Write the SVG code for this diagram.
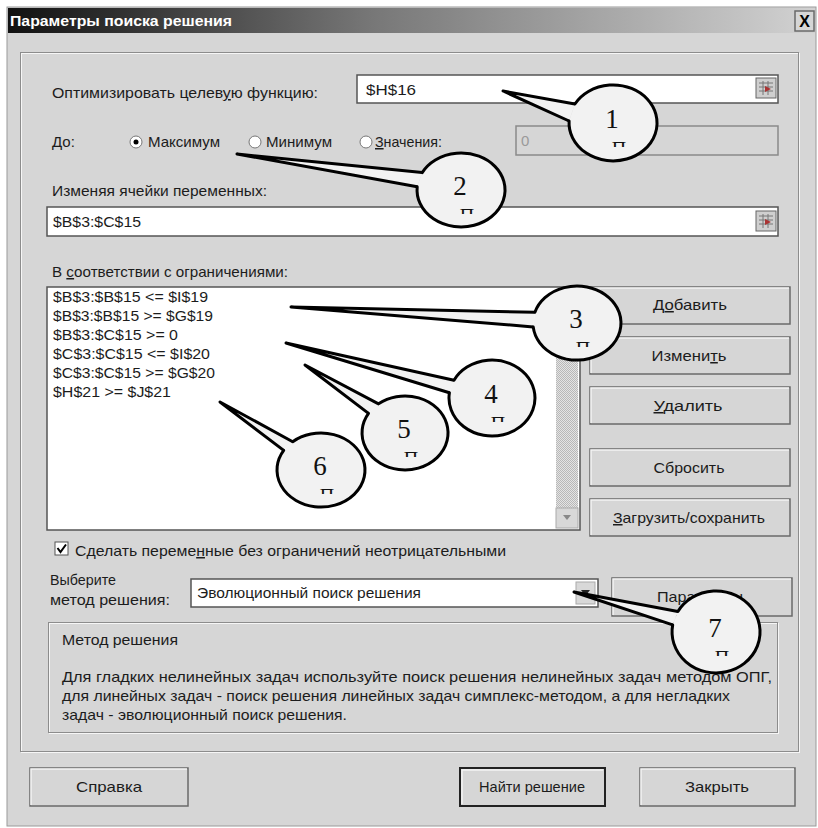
<svg xmlns="http://www.w3.org/2000/svg" width="818" height="828" viewBox="0 0 818 828">
<defs>
<linearGradient id="tg" x1="0" y1="0" x2="1" y2="0">
<stop offset="0" stop-color="#111"/>
<stop offset="0.45" stop-color="#777"/>
<stop offset="1" stop-color="#d2d2d2"/>
</linearGradient>
<pattern id="hatch" width="2" height="2" patternUnits="userSpaceOnUse">
<rect width="2" height="2" fill="#e4e4e4"/>
<rect width="1" height="1" fill="#b8b8b8"/>
<rect x="1" y="1" width="1" height="1" fill="#b8b8b8"/>
</pattern>
<clipPath id="markclip" clipPathUnits="userSpaceOnUse"><rect x="-20" y="17" width="50" height="7"/></clipPath>
<g id="picker">
<rect x="0" y="0" width="20" height="20" fill="#cfcfcf" stroke="#666"/>
<path d="M3 5H17M3 9H17M3 13H17M7 3V17M12 3V17" stroke="#777" stroke-width="1" fill="none"/>
<path d="M9 8L15 11L9 14Z" fill="#a33"/>
</g>
</defs>
<style>
text{font-family:"Liberation Sans","DejaVu Sans",Arial,sans-serif;font-size:15px;fill:#1c1c1c}
.u{text-decoration:underline}
.field{fill:#fff;stroke:#555;stroke-width:1.5}
.btn{fill:#d6d6d6;stroke:#6a6a6a;stroke-width:1.5}
.hl{stroke:#f4f4f4;stroke-width:1.5;fill:none}
.etch{fill:none;stroke:#8c8c8c;stroke-width:1}
.etchw{fill:none;stroke:#f6f6f6;stroke-width:1}
.mid{text-anchor:middle}
.bub{fill:#f2f2f2;stroke:#000;stroke-width:3;stroke-linecap:round;stroke-linejoin:round}
.num{font-family:"Liberation Serif","DejaVu Serif",serif;font-size:27px;fill:#111;text-anchor:middle}
.mark{font-family:"Liberation Serif","DejaVu Serif",serif;font-size:20px;fill:#111;text-anchor:middle}
</style>
<rect width="818" height="828" fill="#fff"/>
<g id="window">
<rect x="7" y="7" width="809" height="819" fill="#d6d6d6" stroke="#9a9a9a"/>
<rect x="8" y="8" width="807" height="25" fill="url(#tg)"/>
<text x="10" y="26" style="font-size:15px;font-weight:bold;fill:#fff" textLength="222" lengthAdjust="spacingAndGlyphs">Параметры поиска решения</text>
<rect x="795" y="11" width="19" height="20" class="btn"/>
<text x="804.5" y="27" class="mid" style="font-size:16px;font-weight:bold;fill:#000">X</text>
<rect x="21.5" y="53.5" width="778" height="699" class="etchw"/>
<rect x="20.5" y="52.5" width="778" height="699" class="etch"/>
</g>
<g id="objective">
<text x="52" y="98" textLength="266" lengthAdjust="spacingAndGlyphs">Оптимизировать целев<tspan class="u">у</tspan>ю функцию:</text>
<rect x="357" y="75" width="421" height="28" class="field"/>
<text x="366" y="95" textLength="50" lengthAdjust="spacingAndGlyphs">$H$16</text>
<use href="#picker" x="756" y="78"/>
</g>
<g id="to">
<text x="52" y="147">До:</text>
<circle cx="136" cy="142" r="6" fill="#fff" stroke="#777"/>
<circle cx="136" cy="142" r="2.5" fill="#000"/>
<text x="148" y="147" textLength="72" lengthAdjust="spacingAndGlyphs">Максимум</text>
<circle cx="255" cy="142" r="6" fill="#fff" stroke="#777"/>
<text x="266" y="147" textLength="66" lengthAdjust="spacingAndGlyphs">Минимум</text>
<circle cx="366" cy="142" r="6" fill="#fff" stroke="#777"/>
<text x="375" y="147" textLength="67" lengthAdjust="spacingAndGlyphs"><tspan class="u">З</tspan>начения:</text>
<rect x="516" y="126" width="262" height="29" fill="#d6d6d6" stroke="#8a8a8a" stroke-width="1.5"/>
<text x="521" y="146" style="fill:#9a9a9a">0</text>
</g>
<g id="variables">
<text x="52" y="196" textLength="215" lengthAdjust="spacingAndGlyphs">Изменяя ячейки переменных:</text>
<rect x="47" y="207" width="731" height="29" class="field"/>
<text x="53" y="227" textLength="88" lengthAdjust="spacingAndGlyphs">$B$3:$C$15</text>
<use href="#picker" x="756" y="211"/>
</g>
<g id="constraints">
<text x="52" y="277" textLength="236" lengthAdjust="spacingAndGlyphs">В <tspan class="u">с</tspan>оответствии с ограничениями:</text>
<rect x="47" y="287" width="533" height="243" class="field"/>
<rect x="556" y="289" width="22" height="239" fill="url(#hatch)"/>
<rect x="556" y="508" width="22" height="20" fill="#d8d8d8" stroke="#aaa"/>
<path d="M563 515H571L567 520Z" fill="#888"/>
<text x="53" y="302" textLength="155" lengthAdjust="spacingAndGlyphs">$B$3:$B$15 &lt;= $I$19</text>
<text x="53" y="321" textLength="160" lengthAdjust="spacingAndGlyphs">$B$3:$B$15 &gt;= $G$19</text>
<text x="53" y="340" textLength="125" lengthAdjust="spacingAndGlyphs">$B$3:$C$15 &gt;= 0</text>
<text x="53" y="359" textLength="157" lengthAdjust="spacingAndGlyphs">$C$3:$C$15 &lt;= $I$20</text>
<text x="53" y="378" textLength="162" lengthAdjust="spacingAndGlyphs">$C$3:$C$15 &gt;= $G$20</text>
<text x="53" y="397" textLength="118" lengthAdjust="spacingAndGlyphs">$H$21 &gt;= $J$21</text>
</g>
<g id="btn-add"><rect x="590" y="287" width="200" height="37" class="btn"/><path d="M591 323V288H789" class="hl"/><text x="690" y="310" class="mid" textLength="74" lengthAdjust="spacingAndGlyphs">Д<tspan class="u">о</tspan>бавить</text></g>
<g id="btn-change"><rect x="590" y="337" width="200" height="37" class="btn"/><path d="M591 373V338H789" class="hl"/><text x="689" y="361" class="mid" textLength="75" lengthAdjust="spacingAndGlyphs">Измени<tspan class="u">т</tspan>ь</text></g>
<g id="btn-delete"><rect x="590" y="387" width="200" height="37" class="btn"/><path d="M591 423V388H789" class="hl"/><text x="688" y="411" class="mid" textLength="69" lengthAdjust="spacingAndGlyphs"><tspan class="u">У</tspan>далить</text></g>
<g id="btn-reset"><rect x="590" y="449" width="200" height="37" class="btn"/><path d="M591 485V450H789" class="hl"/><text x="689" y="473" class="mid" textLength="71" lengthAdjust="spacingAndGlyphs">Сбросить</text></g>
<g id="btn-load"><rect x="590" y="499" width="200" height="37" class="btn"/><path d="M591 535V500H789" class="hl"/><text x="689" y="523" class="mid" textLength="152" lengthAdjust="spacingAndGlyphs"><tspan class="u">З</tspan>агрузить/сохранить</text></g>
<g id="nonneg">
<rect x="55" y="542" width="13" height="13" fill="#fff" stroke="#555"/>
<path d="M57.5 548L60.5 552L66 544.5" fill="none" stroke="#000" stroke-width="2"/>
<text x="75" y="556" textLength="431" lengthAdjust="spacingAndGlyphs">Сделать переме<tspan class="u">н</tspan>ные без ограничений неотрицательными</text>
</g>
<g id="method">
<text x="50" y="585" textLength="66" lengthAdjust="spacingAndGlyphs">Выберите</text>
<text x="50" y="605" textLength="120" lengthAdjust="spacingAndGlyphs">метод решения:</text>
<rect x="191" y="579" width="407" height="28" class="field"/>
<text x="197" y="598" textLength="224" lengthAdjust="spacingAndGlyphs">Эволюционный поиск решения</text>
<rect x="576" y="582" width="19" height="22" fill="#d8d8d8" stroke="#aaa"/>
<path d="M581 590H590L585.5 596Z" fill="#222"/>
</g>
<g id="btn-params"><rect x="612" y="578" width="180" height="38" class="btn"/><path d="M613 615V579H791" class="hl"/><text x="700" y="602" class="mid" textLength="86" lengthAdjust="spacingAndGlyphs">Параметры</text></g>
<g id="method-box">
<rect x="49.5" y="623.5" width="729" height="110" class="etchw"/>
<rect x="48.5" y="622.5" width="729" height="110" class="etch"/>
<text x="62" y="645" textLength="116" lengthAdjust="spacingAndGlyphs">Метод решения</text>
<text x="62" y="682" textLength="710" lengthAdjust="spacingAndGlyphs">Для гладких нелинейных задач используйте поиск решения нелинейных задач методом ОПГ,</text>
<text x="62" y="701" textLength="668" lengthAdjust="spacingAndGlyphs">для линейных задач - поиск решения линейных задач симплекс-методом, а для негладких</text>
<text x="62" y="720" textLength="285" lengthAdjust="spacingAndGlyphs">задач - эволюционный поиск решения.</text>
</g>
<g id="btn-help"><rect x="30" y="768" width="158" height="38" class="btn"/><path d="M31 805V769H187" class="hl"/><text x="109" y="792" class="mid" textLength="66" lengthAdjust="spacingAndGlyphs">Справка</text></g>
<g id="btn-solve"><rect x="460" y="768" width="145" height="38" class="btn" style="stroke:#222;stroke-width:2"/><path d="M462 804V770H603" class="hl"/><text x="532" y="792" class="mid" textLength="106" lengthAdjust="spacingAndGlyphs">Найти решение</text></g>
<g id="btn-close"><rect x="640" y="768" width="155" height="38" class="btn"/><path d="M641 805V769H794" class="hl"/><text x="717" y="792" class="mid" textLength="64" lengthAdjust="spacingAndGlyphs">Закрыть</text></g>
<g id="connectors" class="bub">
<path d="M574.9 104L503 91L569.1 121"/>
<path d="M422.2 172.6L237 154L417.2 186.8"/>
<path d="M534.9 312.2L291 307L533.2 326.9"/>
<path d="M454 380.2L286 343L449.4 392.7"/>
<path d="M378.5 403.8L305 365L368.5 413.4"/>
<path d="M292.7 441.7L220 402L283.7 450.4"/>
<path d="M677.9 611.5L574 592L672.7 624.9"/>
</g>
<g id="callout-1"><path class="bub" d="M569.1 121A44 38 0 1 0 574.9 104"/><g transform="translate(613,123)"><text class="num" x="-1" y="5">1</text><text class="mark" x="6" y="33" clip-path="url(#markclip)">П</text></g></g>
<g id="callout-2"><path class="bub" d="M417.2 186.8A44 37 0 1 0 422.2 172.6"/><g transform="translate(461,190)"><text class="num" x="-1" y="5">2</text><text class="mark" x="6" y="33" clip-path="url(#markclip)">П</text></g></g>
<g id="callout-3"><path class="bub" d="M533.2 326.9A44 37 0 1 0 534.9 312.2"/><g transform="translate(577,323)"><text class="num" x="-1" y="5">3</text><text class="mark" x="6" y="33" clip-path="url(#markclip)">П</text></g></g>
<g id="callout-4"><path class="bub" d="M449.4 392.7A43 38 0 1 0 454 380.2"/><g transform="translate(492,398)"><text class="num" x="-1" y="5">4</text><text class="mark" x="6" y="33" clip-path="url(#markclip)">П</text></g></g>
<g id="callout-5"><path class="bub" d="M368.5 413.4A43 37 0 1 0 378.5 403.8"/><g transform="translate(405,433)"><text class="num" x="-1" y="5">5</text><text class="mark" x="6" y="33" clip-path="url(#markclip)">П</text></g></g>
<g id="callout-6"><path class="bub" d="M283.7 450.4A44 37 0 1 0 292.7 441.7"/><g transform="translate(321,470)"><text class="num" x="-1" y="5">6</text><text class="mark" x="6" y="33" clip-path="url(#markclip)">П</text></g></g>
<g id="callout-7"><path class="bub" d="M672.7 624.9A44 41 0 1 0 677.9 611.5"/><g transform="translate(716,632)"><text class="num" x="-1" y="5">7</text><text class="mark" x="6" y="33" clip-path="url(#markclip)">П</text></g></g>
</svg>
